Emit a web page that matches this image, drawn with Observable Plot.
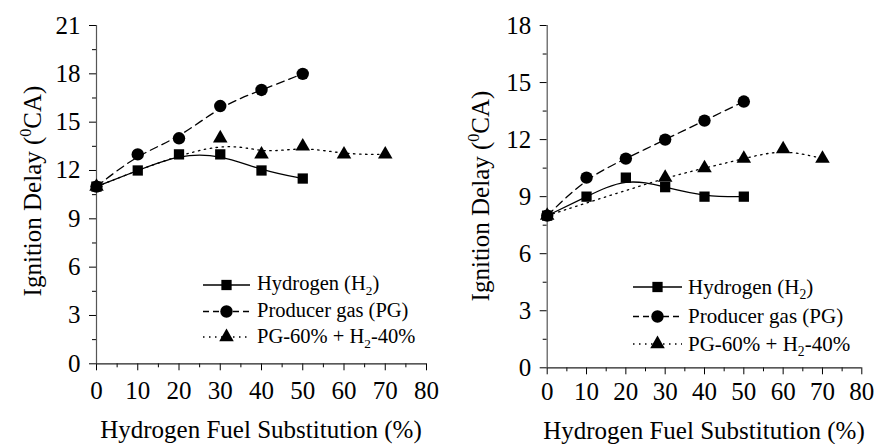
<!DOCTYPE html>
<html><head><meta charset="utf-8">
<script src="https://cdn.jsdelivr.net/npm/d3@7"></script>
<script src="https://cdn.jsdelivr.net/npm/@observablehq/plot@0.6"></script>
<style>
html,body{margin:0;padding:0;background:#fff;}
#chart{position:relative;width:875px;height:444px;overflow:hidden;background:#fff;}
#chart svg{position:absolute;top:0;}
</style></head><body><div id="chart"></div>
<script>
// ---- data ----
const substitutionH2 = [0, 10, 20, 30, 40, 50];
const substitutionPG = [0, 10, 20, 30, 40, 50];
const substitutionBlend = [0, 30, 40, 50, 60, 70];

const leftHydrogen = [11, 12, 13, 13, 12, 11.5];
const leftProducer = [11, 13, 14, 16, 17, 18];
const leftBlend = [11, 14, 13, 13.5, 13, 13];

const rightHydrogen = [8, 9, 10, 9.5, 9, 9];
const rightProducer = [8, 10, 11, 12, 13, 14];
const rightBlend = [8, 10, 10.5, 11, 11.5, 11];

const xTicks = [0, 10, 20, 30, 40, 50, 60, 70, 80];
const xMinorTicks = [5, 15, 25, 35, 45, 55, 65, 75];
const leftYTicks = [0, 3, 6, 9, 12, 15, 18, 21];
const leftYMinorTicks = [1.5, 4.5, 7.5, 10.5, 13.5, 16.5, 19.5];
const rightYTicks = [0, 3, 6, 9, 12, 15, 18];
const rightYMinorTicks = [1.5, 4.5, 7.5, 10.5, 13.5, 16.5];

// legend labels: [main, subscript, rest]
const seriesLabels = [
  ["Hydrogen (H", "2", ")"],
  ["Producer gas (PG)", "", ""],
  ["PG-60% + H", "2", "-40%"]
];
const xTitle = "Hydrogen Fuel Substitution (%)";
const yTitle = ["Ignition Delay (", "0", "CA)"];

// ---- styles ----
const FONT = "'Liberation Serif', 'Times New Roman', serif";
const seriesStyles = [
  {dash: null, symbol: "square", r: 5.8},
  {dash: "8,5", symbol: "circle", r: 6.2},
  {dash: "1.5,4.5", symbol: "triangle", r: 5.4}
];

function table(xs, ys) { return xs.map((x, i) => ({x, y: ys[i]})); }

function makePanel(cfg) {
  const data = [
    table(substitutionH2, cfg.hydrogen),
    table(substitutionPG, cfg.producer),
    table(substitutionBlend, cfg.blend)
  ];
  const marks = [
    Plot.axisX({ticks: xTicks, tickSize: 7, tickPadding: cfg.xPad, label: null, stroke: "#000", tickFormat: d => String(d)}),
    Plot.axisX({ticks: xMinorTicks, tickSize: 4, label: null, stroke: "#000", tickFormat: () => ""}),
    Plot.axisY({ticks: cfg.yTicks, tickSize: 7, tickPadding: 9, label: null, stroke: "#000", tickFormat: d => String(d)}),
    Plot.axisY({ticks: cfg.yMinor, tickSize: 4, label: null, stroke: "#000", tickFormat: () => ""}),
    Plot.ruleY([0], {stroke: "#222", strokeWidth: 1.2}),
    Plot.ruleX([0], {stroke: "#555", strokeWidth: 1.2})
  ];
  for (let i = 2; i >= 0; i--) {
    const s = seriesStyles[i];
    marks.push(Plot.line(data[i], {x: "x", y: "y", curve: "basis", stroke: "#000", strokeWidth: 1.3, strokeDasharray: s.dash}));
  }
  for (let i = 2; i >= 0; i--) {
    const s = seriesStyles[i];
    marks.push(Plot.dot(data[i], {x: "x", y: "y", symbol: s.symbol, r: s.r, fill: "#000", stroke: "none"}));
  }
  const svg = Plot.plot({
    width: cfg.width, height: 444,
    marginLeft: cfg.ml, marginRight: cfg.mr, marginTop: cfg.mt, marginBottom: cfg.mb,
    x: {domain: [0, 80]},
    y: {domain: [0, cfg.yMax]},
    style: {fontFamily: FONT, fontSize: "25px", color: "#000", background: "transparent", overflow: "visible"},
    marks
  });
  svg.style.left = cfg.left + "px";
  const g = d3.select(svg);
  // y title
  const yt = g.append("text")
    .attr("transform", `translate(${cfg.yTitleX},${cfg.yTitleY}) rotate(-90)`)
    .attr("text-anchor", "middle")
    .attr("font-family", FONT).attr("font-size", 25).attr("fill", "#000");
  yt.append("tspan").text(yTitle[0]);
  yt.append("tspan").attr("font-size", 16).attr("dy", -10).text(yTitle[1]);
  yt.append("tspan").attr("dy", 10).text(yTitle[2]);
  // x title
  g.append("text")
    .attr("x", cfg.xTitleX).attr("y", cfg.xTitleY)
    .attr("text-anchor", "middle")
    .attr("font-family", FONT).attr("font-size", 25).attr("fill", "#000")
    .text(xTitle);
  // legend
  const L = cfg.legend;
  seriesLabels.forEach((lab, i) => {
    const s = seriesStyles[i];
    const cy = L.symY[i];
    g.append("line").attr("x1", L.x0).attr("x2", L.x1).attr("y1", cy).attr("y2", cy)
      .attr("stroke", "#000").attr("stroke-width", 1.3)
      .attr("stroke-dasharray", s.dash ? (i === 1 ? "6,4" : "1.5,4.5") : null);
    const sym = {square: d3.symbolSquare, circle: d3.symbolCircle, triangle: d3.symbolTriangle}[s.symbol];
    g.append("path").attr("d", d3.symbol(sym, Math.PI * s.r * s.r)())
      .attr("transform", `translate(${(L.x0 + L.x1) / 2},${cy})`).attr("fill", "#000");
    const t = g.append("text").attr("x", L.tx).attr("y", L.base[i])
      .attr("text-anchor", "start")
      .attr("font-family", FONT).attr("font-size", L.fs).attr("fill", "#000");
    t.append("tspan").text(lab[0]);
    if (lab[1]) {
      t.append("tspan").attr("font-size", L.fs * 0.65).attr("dy", 5).text(lab[1]);
      t.append("tspan").attr("dy", -5).text(lab[2]);
    }
  });
  document.getElementById("chart").appendChild(svg);
}

makePanel({
  left: 0, width: 440, ml: 96, mr: 14, mt: 25, mb: 80.7, yMax: 21,
  hydrogen: leftHydrogen, producer: leftProducer, blend: leftBlend,
  yTicks: leftYTicks, yMinor: leftYMinorTicks, xPad: 10.5,
  yTitleX: 41, yTitleY: 191, xTitleX: 261, xTitleY: 437.5,
  legend: {x0: 203, x1: 250, tx: 257, fs: 20.5, symY: [285, 311.5, 337], base: [290, 316.7, 342.7]}
});
makePanel({
  left: 440, width: 435, ml: 106.7, mr: 13.7, mt: 25, mb: 76.7, yMax: 18,
  hydrogen: rightHydrogen, producer: rightProducer, blend: rightBlend,
  yTicks: rightYTicks, yMinor: rightYMinorTicks, xPad: 7.5,
  yTitleX: 49, yTitleY: 196, xTitleX: 264, xTitleY: 438.5,
  legend: {x0: 193, x1: 242, tx: 248, fs: 21, symY: [287, 316.5, 344], base: [294, 322.5, 350.5]}
});
</script></body></html>
